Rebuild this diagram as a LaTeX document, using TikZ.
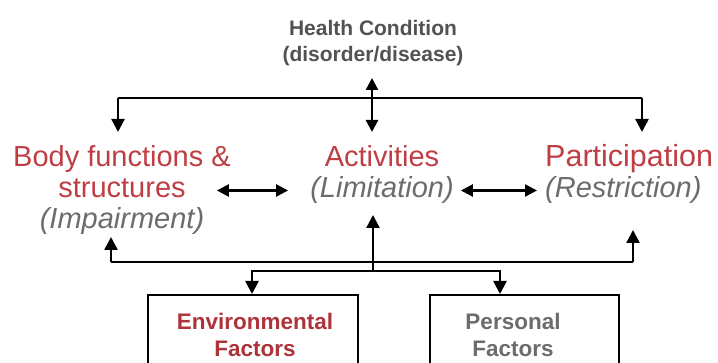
\documentclass[tikz,border=0pt]{standalone}
\usepackage{fontspec}
\setmainfont{Liberation Sans}
\usepackage{xcolor}
\usetikzlibrary{arrows.meta,positioning}

\definecolor{icfred}{RGB}{190,62,68}
\definecolor{envred}{RGB}{172,52,58}
\definecolor{icfgray}{RGB}{108,108,108}
\definecolor{hcgray}{RGB}{82,82,82}

\begin{document}
\begin{tikzpicture}[y=-1pt,x=1pt,
	big/.style={anchor=base, inner sep=0pt, text=icfred, font=\fontsize{29}{31.5}\selectfont},
	qual/.style={big, text=icfgray, font=\fontsize{29}{31.5}\selectfont\itshape},
	hc/.style={anchor=base, inner sep=0pt, text=hcgray, font=\fontsize{21}{27}\selectfont\bfseries},
	factorbox/.style={draw, line width=2pt, minimum height=80pt, inner sep=0pt},
	factortext/.style={inner sep=0pt, align=center, font=\fontsize{22.5}{27}\selectfont\bfseries},
	line/.style={line width=2.4pt},
	arr/.style={line, -{Triangle[width=13pt,length=13pt]}},
	dblarr/.style={line, {Triangle[width=12pt,length=12pt]}-{Triangle[width=12pt,length=12pt]}}]
	\useasboundingbox (0,0) rectangle (718,363);
	\clip (0,0) rectangle (718,363);

	% health condition
	\node[hc] (hcA) at (373,35.5) {Health Condition};
	\node[hc] (hcB) at (373,62) {(disorder/disease)};

	% the three components
	\node[big] (bodyA) at (122,167) {Body functions \&};
	\node[big] (bodyB) at (122,198) {structures};
	\node[qual] (bodyC) at (122,229) {(Impairment)};
	\node[big] (actA) at (382,167) {Activities};
	\node[qual] (actB) at (382,198) {(Limitation)};
	\node[big, anchor=base west, font=\fontsize{30.5}{31.5}\selectfont] (partA) at (545,167) {Participation};
	\node[qual, anchor=base west] (partB) at (545,198) {(Restriction)};

	% context factors
	\node[factorbox, minimum width=210pt] (env) at (253,335) {};
	\node[factortext, text=envred] (envT) at ([xshift=2pt]env.center) {Environmental\\Factors};
	\node[factorbox, minimum width=189pt] (pers) at (524.5,335) {};
	\node[factortext, text=icfgray] (persT) at ([xshift=-11.5pt]pers.center) {Personal\\Factors};

	\coordinate (tl) at (118,98);
	\coordinate (tr) at (642,98);
	\coordinate (bodyDown) at (118,132);
	\coordinate (partDown) at (642,132);
	\coordinate (hcTip) at (372,78);
	\coordinate (actDown) at (372,132);

	\coordinate (bl) at (111,262);
	\coordinate (br) at (633,262);
	\coordinate (bodyUp) at (111,237);
	\coordinate (partUp) at (633,230);
	\coordinate (fj) at (373,271);
	\coordinate (actUp) at (373,215);

	\draw[line] (tl) -- (tr);
	\draw[arr] (tl) -- (bodyDown);
	\draw[arr] (tr) -- (partDown);
	\draw[dblarr] (hcTip) -- (actDown);

	\draw[dblarr, shorten <=31pt, shorten >=22pt] (bodyB.east |- actB.west) -- (actB.west);
	\draw[dblarr, shorten <=7pt, shorten >=8pt] (actB.east) -- (partB.west);

	\draw[line] (bl) -- (br);
	\draw[arr] (bl) -- (bodyUp);
	\draw[arr] (br) -- (partUp);
	\draw[arr] (fj) -- (actUp);
	\draw[arr] (fj) -| ([xshift=-1pt]env.north);
	\draw[arr] (fj) -| ([xshift=-24.5pt]pers.north);
\end{tikzpicture}
\end{document}
